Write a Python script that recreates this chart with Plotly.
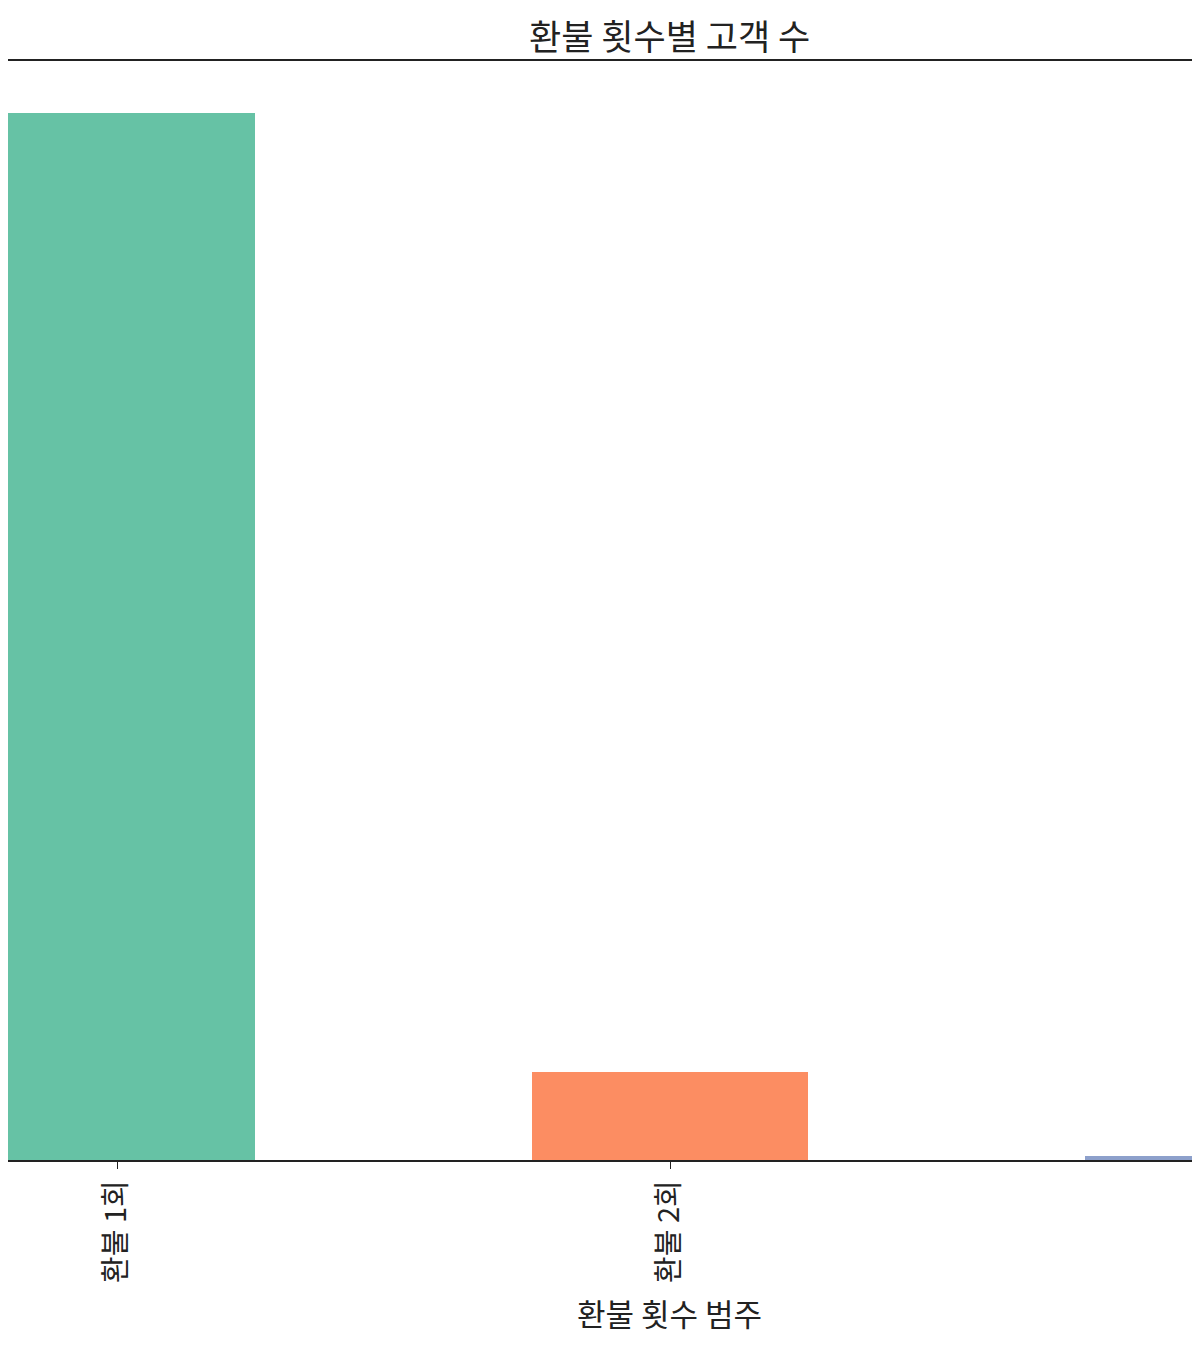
import plotly.graph_objects as go

categories = ["환불 1회", "환불 2회", "환불 3회 이상"]
counts = [3000, 252, 12]
colors = ["#66c2a5", "#fc8d62", "#8da0cb"]

# page has an 8px body margin; compensate so page pixels match the reference
OFF = 8
W, H = 1200 - OFF, 1350 - OFF
top_pg, bottom_pg = 61, 1160
top, bottom = top_pg - OFF, bottom_pg - OFF
plot_h = bottom - top

x_idx = list(range(len(categories)))
unit = 553.0
x0_px = 117.0
xr = [(OFF - x0_px) / unit, (1200 - x0_px) / unit]

fig = go.Figure()
fig.add_trace(go.Bar(
    x=x_idx, y=counts, width=0.5,
    marker=dict(color=colors, line=dict(width=0)),
    showlegend=False,
))

font_family = "Noto Sans CJK KR"

def py(p_page):
    return (bottom - (p_page - OFF)) / plot_h

def px(p_page):
    return (p_page - OFF) / W

fig.update_layout(
    width=W, height=H,
    margin=dict(l=0, r=0, t=top, b=H - bottom, pad=0),
    plot_bgcolor="white", paper_bgcolor="white",
    font=dict(family=font_family, color="#222"),
    bargap=0,
    xaxis=dict(
        range=xr, tickmode="array", tickvals=x_idx, ticktext=categories,
        tickangle=-90, ticks="outside", ticklen=7, tickwidth=1.2, tickcolor="#222",
        tickfont=dict(size=29, family=font_family, color="#222"),
        showline=True, linecolor="#222", linewidth=1.5, mirror=True,
        showgrid=False, zeroline=False, fixedrange=True,
    ),
    yaxis=dict(
        range=[0, max(counts) * 1.05], visible=False, showgrid=False, zeroline=False,
    ),
    annotations=[
        dict(text="환불 횟수별 고객 수", x=px(670), y=py(34), xref="paper", yref="paper",
             xanchor="center", yanchor="middle", showarrow=False,
             font=dict(size=35, family=font_family, color="#222")),
        dict(text="환불 횟수 범주", x=px(670), y=py(1312), xref="paper", yref="paper",
             xanchor="center", yanchor="middle", showarrow=False,
             font=dict(size=31, family=font_family, color="#222")),
    ],
)

fig.write_html("out.html")
